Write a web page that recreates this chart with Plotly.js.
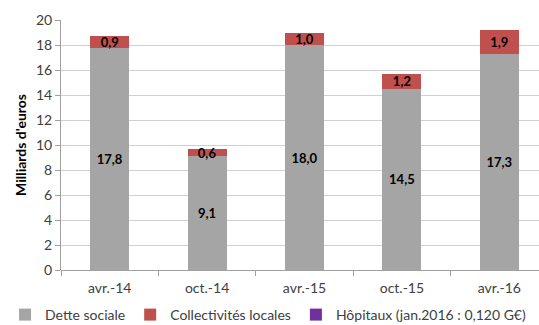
<!DOCTYPE html>
<html>
<head>
<meta charset="utf-8">
<script src="https://cdn.plot.ly/plotly-3.0.1.min.js"></script>
<style>html,body{margin:0;padding:0;background:#fff;}#chart{width:539px;height:325px;}</style>
</head>
<body>
<div id="chart"></div>
<script>
const categories = ["avr.-14", "oct.-14", "avr.-15", "oct.-15", "avr.-16"];
const detteSociale = [17.8, 9.1, 18.0, 14.5, 17.3];
const collectivites = [0.9, 0.6, 1.0, 1.2, 1.9];
const hopitaux = [null, null, null, null, null];
const yTicks = [0, 2, 4, 6, 8, 10, 12, 14, 16, 18, 20];

const FONT = "Lato, 'Open Sans', sans-serif";
const labelFont = {family: FONT, size: 13, color: "#000", weight: "bold"};

const traces = [
  {
    type: "bar", name: "Dette sociale", x: categories, y: detteSociale,
    marker: {color: "#A5A5A5"},
    texttemplate: "<b>%{y:.1f}</b>", textposition: "inside", insidetextanchor: "middle",
    textangle: 0, constraintext: "none", textfont: labelFont, hoverinfo: "skip"
  },
  {
    type: "bar", name: "Collectivités locales", x: categories, y: collectivites,
    marker: {color: "#C0504D"},
    texttemplate: "<b>%{y:.1f}</b>", textposition: "inside", insidetextanchor: "middle",
    textangle: 0, constraintext: "none", textfont: labelFont, hoverinfo: "skip"
  },
  {
    type: "bar", name: "Hôpitaux (jan.2016 : 0,120 G€)", x: categories, y: hopitaux,
    marker: {color: "#7030A0"}, hoverinfo: "skip"
  }
];

const plotW = 539 - 61;
const catW = 97.4;

const layout = {
  width: 539, height: 325,
  margin: {l: 61, r: 0, t: 20, b: 55, autoexpand: false},
  barmode: "stack", bargap: 0.6,
  separators: ", ",
  paper_bgcolor: "#fff", plot_bgcolor: "#fff",
  font: {family: FONT, size: 14, color: "#404040"},
  showlegend: true,
  legend: {
    orientation: "h", x: -0.117, xanchor: "left", y: -0.18, yanchor: "middle",
    font: {family: FONT, size: 14, color: "#404040"},
    traceorder: "normal", itemwidth: 30, itemclick: false
  },
  xaxis: {
    type: "category", range: [-0.5, -0.5 + plotW / catW],
    showgrid: false, showline: false, zeroline: false,
    ticks: "outside", tickson: "boundaries", ticklen: 5, tickcolor: "#A0A0A0",
    ticklabelstandoff: 8,
    tickfont: {family: FONT, size: 14, color: "#404040"}, fixedrange: true
  },
  yaxis: {
    range: [0, 20], tickvals: yTicks, ticktext: yTicks.map(String),
    showgrid: true, gridcolor: "#D0D0D0", gridwidth: 1,
    showline: true, linecolor: "#A0A0A0", linewidth: 1,
    zeroline: true, zerolinecolor: "#A0A0A0",
    ticks: "outside", ticklen: 5, tickcolor: "#A0A0A0",
    tickfont: {family: FONT, size: 14, color: "#404040"},
    title: {text: "<b>Milliards d'euros</b>", font: {family: FONT, size: 14, color: "#000"}, standoff: 6},
    fixedrange: true
  }
};

Plotly.newPlot("chart", traces, layout, {displayModeBar: false, staticPlot: true});
</script>
</body>
</html>
